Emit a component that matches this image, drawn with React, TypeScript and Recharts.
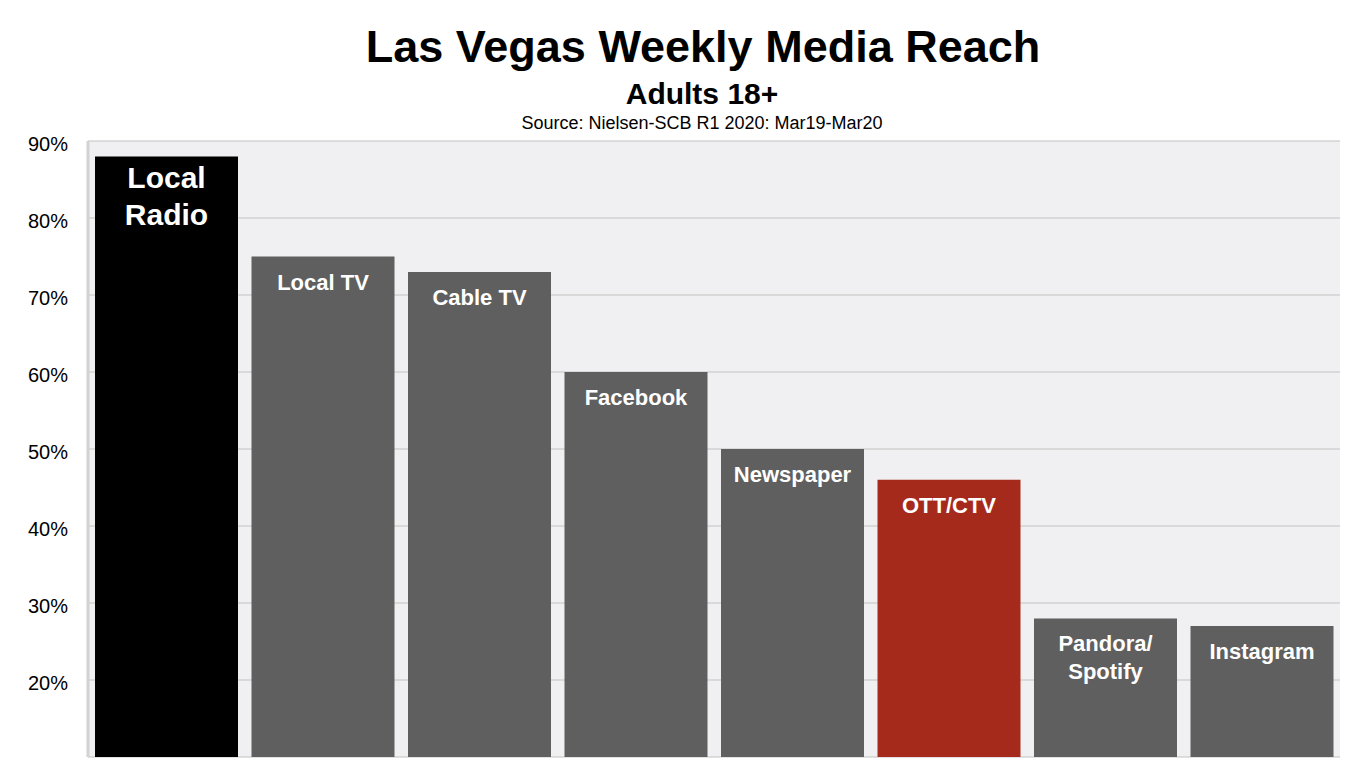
import React from "react";
import { BarChart, Bar, XAxis, YAxis, CartesianGrid, Cell, LabelList } from "recharts";

const categories = ["Local Radio", "Local TV", "Cable TV", "Facebook", "Newspaper", "OTT/CTV", "Pandora/Spotify", "Instagram"];
const reach = [88, 75, 73, 60, 50, 46, 28, 27];
const barLabels = [["Local", "Radio"], ["Local TV"], ["Cable TV"], ["Facebook"], ["Newspaper"], ["OTT/CTV"], ["Pandora/", "Spotify"], ["Instagram"]];
const yTicks = [20, 30, 40, 50, 60, 70, 80, 90];

const title = "Las Vegas Weekly Media Reach";
const subtitle = "Adults 18+";
const source = "Source: Nielsen-SCB R1 2020: Mar19-Mar20";

const data = categories.map((c, i) => ({ name: c, value: reach[i], idx: i }));

const colorFor = (name: string) => {
  if (name === "Local Radio") return "#000000";
  if (name === "OTT/CTV") return "#a52a1b";
  return "#5f5f5f";
};

const FONT = "'Liberation Sans', Arial, Helvetica, sans-serif";

const BarLabel = (props: any) => {
  const { x, y, width, index } = props;
  const lines = barLabels[index] || [];
  const big = index === 0;
  const fs = big ? 30 : 22;
  const first = big ? 32 : 33;
  const lh = big ? 37 : 28;
  const cx = Number(x) + Number(width) / 2;
  return (
    <text x={cx} y={Number(y) + first} textAnchor="middle" fill="#ffffff" fontFamily={FONT} fontWeight="bold" fontSize={fs}>
      {lines.map((l, k) => (
        <tspan key={k} x={cx} y={Number(y) + first + k * lh}>{l}</tspan>
      ))}
    </text>
  );
};

export default function App() {
  return (
    <div style={{ position: "absolute", left: 0, top: 0, width: 1368, height: 776, background: "#ffffff", fontFamily: FONT }}>
      <div style={{ position: "absolute", left: 0, top: 21, width: 1406, textAlign: "center", fontSize: 45, fontWeight: "bold", color: "#000", lineHeight: "52px" }}>{title}</div>
      <div style={{ position: "absolute", left: 0, top: 77, width: 1404, textAlign: "center", fontSize: 30, fontWeight: "bold", color: "#000", lineHeight: "34px" }}>{subtitle}</div>
      <div style={{ position: "absolute", left: 0, top: 112, width: 1404, textAlign: "center", fontSize: 18, color: "#000", lineHeight: "22px" }}>{source}</div>
      <div style={{ position: "absolute", left: 0, top: 0 }}>
        <BarChart width={1368} height={776} data={data} margin={{ top: 141, right: 28, bottom: 19, left: 0 }} barCategoryGap={7}>
          <CartesianGrid vertical={false} stroke="#c2c2c2" strokeWidth={1.2} fill="#f0f0f2" />
          <XAxis dataKey="name" tick={false} tickLine={false} axisLine={{ stroke: "#cfcfcf", strokeWidth: 2 }} height={0} />
          <YAxis
            width={88}
            domain={[10, 90]}
            ticks={yTicks}
            tickFormatter={(v: number) => `${v}%`}
            tickLine={false}
            tickMargin={14}
            axisLine={{ stroke: "#d2d2d2", strokeWidth: 3 }}
            tick={{ fill: "#000", fontSize: 20, fontFamily: FONT, dy: 3 }}
            allowDataOverflow
          />
          <Bar dataKey="value" isAnimationActive={false}>
            {data.map((d) => (
              <Cell key={d.name} fill={colorFor(d.name)} />
            ))}
            <LabelList dataKey="value" content={<BarLabel />} />
          </Bar>
        </BarChart>
      </div>
    </div>
  );
}
